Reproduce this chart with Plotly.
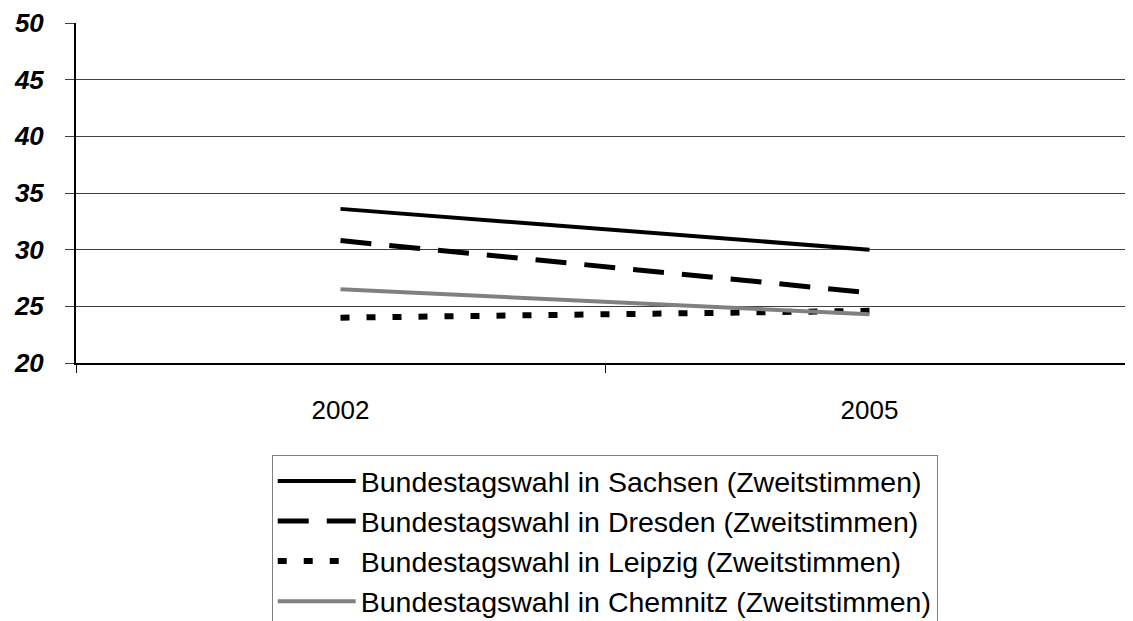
import plotly.graph_objects as go

years = ["2002", "2005"]
series_names = [
    "Bundestagswahl in Sachsen (Zweitstimmen)",
    "Bundestagswahl in Dresden (Zweitstimmen)",
    "Bundestagswahl in Leipzig (Zweitstimmen)",
    "Bundestagswahl in Chemnitz (Zweitstimmen)",
]
sachsen = [33.6, 30.0]
dresden = [30.8, 26.2]
leipzig = [24.0, 24.6]
chemnitz = [26.5, 24.3]
y_ticks = [20, 25, 30, 35, 40, 45, 50]

styles = [
    dict(color="#000000", width=4, dash="solid"),
    dict(color="#000000", width=5, dash="31px,18px"),
    dict(color="#000000", width=6, dash="9px,17px"),
    dict(color="#808080", width=4, dash="solid"),
]

fig = go.Figure()
for i, (name, vals) in enumerate(zip(series_names, [sachsen, dresden, leipzig, chemnitz])):
    fig.add_trace(go.Scatter(
        x=years, y=vals, mode="lines", name=name,
        line=styles[i], legendgroup=f"g{i}",
    ))

fig.update_layout(
    width=1133, height=621,
    margin=dict(l=68, r=7, t=15, b=266, autoexpand=False),
    paper_bgcolor="white", plot_bgcolor="white",
    font=dict(family="Liberation Sans, Arial", color="black"),
    showlegend=True,
    legend=dict(
        x=0.185, y=-0.2705, xanchor="left", yanchor="top",
        font=dict(size=28.5, color="black"),
        bordercolor="#808080", borderwidth=1, bgcolor="white",
        tracegroupgap=0, traceorder="normal", itemwidth=78,
    ),
)
fig.update_xaxes(
    type="category", range=[-0.5, 1.5],
    showline=True, linecolor="black", linewidth=2,
    ticks="outside", ticklen=8, tickcolor="black", tickwidth=1,
    tickson="boundaries", showgrid=False,
    tickfont=dict(size=26, color="black"),
    ticklabelstandoff=23,
)
fig.update_yaxes(
    range=[20, 50], tickvals=y_ticks,
    showline=True, linecolor="black", linewidth=2,
    ticks="outside", ticklen=9, tickcolor="#404040", tickwidth=1,
    showgrid=True, gridcolor="#404040", gridwidth=1,
    zeroline=False,
    tickfont=dict(size=26, color="black", weight="bold", style="italic"),
    ticklabelstandoff=16,
)

fig.write_html("out.html")
